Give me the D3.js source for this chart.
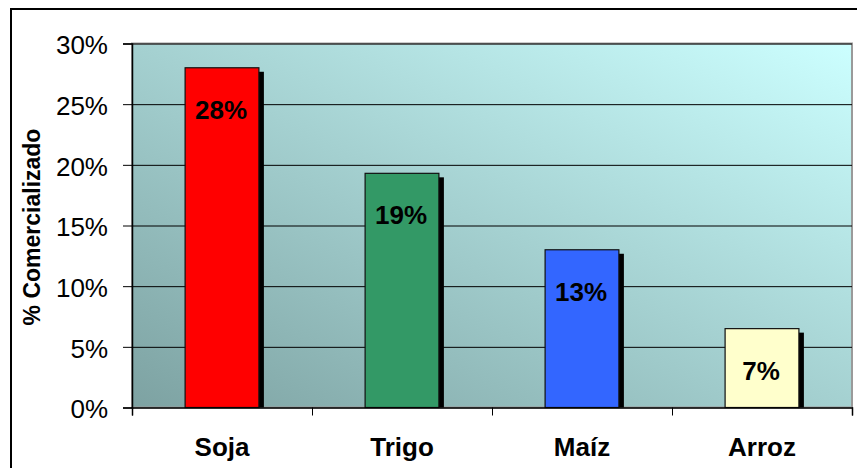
<!DOCTYPE html>
<html>
<head>
<meta charset="utf-8">
<script src="https://cdn.jsdelivr.net/npm/d3@7"></script>
<style>
  body { margin: 0; background: #fff; }
  svg { display: block; font-family: "Liberation Sans", Arial, sans-serif; }
</style>
</head>
<body>
<svg id="chart" width="857" height="468"></svg>
<script>
// data
var categories = ["Soja", "Trigo", "Maíz", "Arroz"];
var values = [28, 19.3, 13, 6.5];          // % comercializado
var barColors = ["#ff0000", "#339966", "#3366ff", "#ffffcc"];
var yTicks = [0, 5, 10, 15, 20, 25, 30];

var svg = d3.select("#chart");
var plotL = 132, plotR = 852, plotT = 43.5, plotB = 407.5;

var x = d3.scaleBand().domain(categories).range([plotL, plotR]).paddingInner(0.59).paddingOuter(0.295);
var xEdge = d3.scaleLinear().domain([0, categories.length]).range([plotL, plotR]);
var y = d3.scaleLinear().domain([0, 30]).range([plotB, plotT]);

// outer frame (runs off the picture on right / bottom)
svg.append("rect")
    .attr("x", 11).attr("y", 9)
    .attr("width", 900).attr("height", 500)
    .attr("fill", "none").attr("stroke", "#000").attr("stroke-width", 2);

// plot background gradient
var grad = svg.append("defs").append("linearGradient")
    .attr("id", "bg").attr("x1", 0).attr("y1", 1).attr("x2", 1).attr("y2", 0);
grad.append("stop").attr("offset", "0%").attr("stop-color", "#7da2a2");
grad.append("stop").attr("offset", "100%").attr("stop-color", "#ccffff");

svg.append("rect")
    .attr("x", plotL).attr("y", plotT)
    .attr("width", plotR - plotL).attr("height", plotB - plotT)
    .attr("fill", "url(#bg)")
    .attr("stroke", "#9a9a9a").attr("stroke-width", 2);

// gridlines
svg.append("g")
    .attr("transform", "translate(" + plotL + ",0)")
    .call(d3.axisLeft(y).tickValues(yTicks.slice(1)).tickSize(-(plotR - plotL)).tickFormat(""))
    .call(g => g.select(".domain").remove())
    .call(g => g.selectAll("line").attr("stroke", "#000").attr("stroke-width", 1));

// shadows
svg.append("g").selectAll("rect")
    .data(values)
    .enter()
    .append("rect")
    .attr("x", (d, i) => x(categories[i]) + 5)
    .attr("y", d => y(d) + 4)
    .attr("width", x.bandwidth())
    .attr("height", d => plotB - y(d) - 4)
    .attr("fill", "#000");

// bars
svg.append("g").selectAll("rect")
    .data(values)
    .enter()
    .append("rect")
    .attr("x", (d, i) => x(categories[i]))
    .attr("y", d => y(d))
    .attr("width", x.bandwidth())
    .attr("height", d => plotB - y(d))
    .attr("fill", (d, i) => barColors[i])
    .attr("stroke", "#111").attr("stroke-width", 1.2);

// value labels
svg.append("g").selectAll("text")
    .data(values)
    .enter()
    .append("text")
    .attr("x", (d, i) => x(categories[i]) + x.bandwidth() / 2 - 1)
    .attr("y", d => y(d) + 51)
    .attr("text-anchor", "middle")
    .style("font-size", "26px")
    .style("font-weight", "bold")
    .text(d => Math.round(d) + "%");

// y axis
svg.append("g")
    .attr("transform", "translate(" + plotL + ",0)")
    .call(d3.axisLeft(y).tickValues(yTicks).tickSize(9).tickPadding(15).tickFormat(d => d + "%"))
    .call(g => g.select(".domain").attr("stroke", "#000").attr("stroke-width", 1.5))
    .call(g => g.selectAll("line").attr("stroke", "#000"))
    .call(g => g.selectAll("text").attr("dy", "0.4em").style("font-size", "26px").attr("fill", "#000"));

// zero line + x ticks at category edges
svg.append("g")
    .attr("transform", "translate(0," + plotB + ")")
    .call(d3.axisBottom(xEdge).tickValues(d3.range(categories.length + 1)).tickSize(8).tickFormat(""))
    .call(g => g.select(".domain").attr("stroke", "#000").attr("stroke-width", 1.5))
    .call(g => g.selectAll("line").attr("stroke", "#000"));

// category labels
svg.append("g")
    .attr("transform", "translate(0," + plotB + ")")
    .call(d3.axisBottom(x).tickSize(0).tickPadding(30))
    .call(g => g.select(".domain").remove())
    .call(g => g.selectAll("text").style("font-size", "26px").style("font-weight", "bold").attr("fill", "#000"));

// y axis title
svg.append("text")
    .attr("transform", "translate(40,227) rotate(-90)")
    .attr("text-anchor", "middle")
    .style("font-size", "23px")
    .style("font-weight", "bold")
    .text("% Comercializado");
</script>
</body>
</html>
